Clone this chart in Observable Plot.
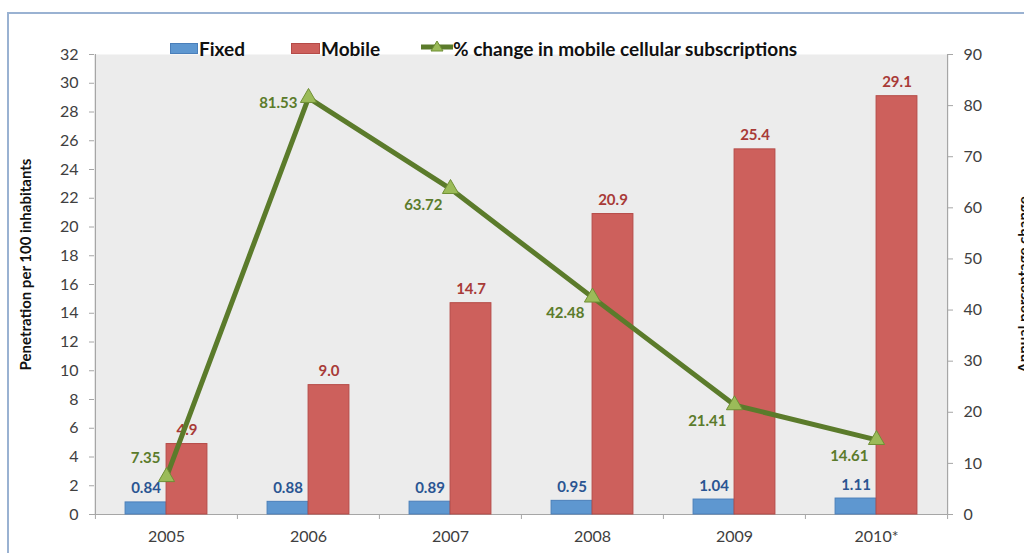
<!DOCTYPE html>
<html>
<head>
<meta charset="utf-8">
<script src="https://cdn.jsdelivr.net/npm/d3@7"></script>
<script src="https://cdn.jsdelivr.net/npm/@observablehq/plot@0.6"></script>
<style>
  html, body { margin: 0; padding: 0; background: #fff; }
  #wrap { position: relative; width: 1024px; height: 553px; overflow: hidden; font-family: Lato, "Open Sans", sans-serif; }
  #border { position: absolute; left: 7px; top: 12px; right: -4px; bottom: -4px; border-top: 2px solid #9ab2d2; border-left: 2px solid #9ab2d2; pointer-events: none; z-index: 2; }
  .lg { position: absolute; font-weight: bold; font-size: 19px; color: #111; line-height: 1; z-index: 3; white-space: nowrap; }
  .sw { position: absolute; z-index: 3; }
</style>
</head>
<body>
<div id="wrap">
  <div id="border"></div>
  <div class="sw" style="left:170px;top:43px;width:28px;height:11px;background:#5e97d0;border:1px solid #4a7fba;box-sizing:border-box"></div>
  <div class="lg" style="left:199px;top:39px">Fixed</div>
  <div class="sw" style="left:291px;top:43px;width:29px;height:11px;background:#cd605c;border:1px solid #b54a47;box-sizing:border-box"></div>
  <div class="lg" style="left:321px;top:39px">Mobile</div>
  <svg class="sw" style="left:420px;top:38px" width="34" height="16">
    <line x1="1" y1="9" x2="33" y2="9" stroke="#5b7b2b" stroke-width="5"/>
    <path d="M17,3 L23,13 L11,13 Z" fill="#9bbb59" stroke="#6f8f35" stroke-width="1"/>
  </svg>
  <div class="lg" style="left:453px;top:39px">% change in mobile cellular subscriptions</div>
  <div id="chart"></div>
</div>
<script>
// ---- data ----
const years = ["2005", "2006", "2007", "2008", "2009", "2010*"];
const fixed = [0.84, 0.88, 0.89, 0.95, 1.04, 1.11];
const mobile = [4.9, 9.0, 14.7, 20.9, 25.4, 29.1];
const change = [7.35, 81.53, 63.72, 42.48, 21.41, 14.61];
const leftTicks = [0, 2, 4, 6, 8, 10, 12, 14, 16, 18, 20, 22, 24, 26, 28, 30, 32];
const rightTicks = [0, 10, 20, 30, 40, 50, 60, 70, 80, 90];
const leftTitle = "Penetration per 100 inhabitants";
const rightTitle = "Annual percentage change";

// ---- layout ----
const W = 1024, H = 553;
const mL = 94, mR = 77, mT = 54, mB = 39;
const leftMax = 32, rightMax = 90;
const toLeft = v => v * leftMax / rightMax;
const step = (W - mL - mR) / years.length;
const barW = 41;

const data = years.map((year, i) => ({year, fixed: fixed[i], mobile: mobile[i], change: change[i], i}));
const maxChange = d3.max(change);

const axisGray = "#a6a6a6";
const tickText = "#404040";
const green = "#5b7b2b";
const font = "Lato, 'Open Sans', sans-serif";

const chart = Plot.plot({
  width: W, height: H,
  marginLeft: mL, marginRight: mR, marginTop: mT, marginBottom: mB,
  style: {fontFamily: font, background: "transparent"},
  x: {type: "band", domain: years, padding: 0, axis: null},
  y: {domain: [0, leftMax], axis: null},
  marks: [
    Plot.frame({fill: "#ececec", stroke: null}),
    // left axis
    Plot.axisY({anchor: "left", ticks: leftTicks, tickSize: 5, tickPadding: 11, fontSize: 16, stroke: axisGray, fill: tickText, label: null}),
    // right axis
    Plot.axisY({anchor: "right", ticks: rightTicks.map(toLeft), tickFormat: d => Math.round(d * rightMax / leftMax), tickSize: 5, tickPadding: 11, fontSize: 16, stroke: axisGray, fill: tickText, label: null}),
    // x labels
    Plot.axisX({tickSize: 0, tickPadding: 16, fontSize: 16, fill: tickText, label: null}),
    // x boundary ticks
    Plot.axisX({tickSize: 5, tickFormat: () => "", stroke: axisGray, dx: -step / 2, label: null}),
    Plot.axisX({ticks: [years[years.length - 1]], tickSize: 5, tickFormat: () => "", stroke: axisGray, dx: step / 2, label: null}),
    // axis lines
    Plot.ruleX([years[0]], {dx: -step / 2, stroke: axisGray, strokeWidth: 1.2}),
    Plot.ruleX([years[years.length - 1]], {dx: step / 2, stroke: axisGray, strokeWidth: 1.2}),
    Plot.ruleY([0], {stroke: axisGray, strokeWidth: 1.2}),
    // bars
    Plot.barY(data, {x: "year", y: "fixed", fill: "#5e97d0", stroke: "#4a7fba", strokeWidth: 1, insetLeft: step / 2 - barW, insetRight: step / 2}),
    Plot.barY(data, {x: "year", y: "mobile", fill: "#cd605c", stroke: "#b54a47", strokeWidth: 1, insetLeft: step / 2, insetRight: step / 2 - barW}),
    // bar labels
    Plot.text(data, {x: "year", y: "fixed", text: d => d.fixed.toFixed(2), dx: -barW / 2, dy: -9, lineAnchor: "bottom", fill: "#2a5592", fontWeight: "bold", fontSize: 15}),
    Plot.text(data, {x: "year", y: "mobile", text: d => d.mobile.toFixed(1), dx: barW / 2, dy: -9, lineAnchor: "bottom", fill: "#a83a37", fontWeight: "bold", fontSize: 15}),
    // line
    Plot.line(data, {x: "year", y: d => toLeft(d.change), stroke: green, strokeWidth: 5}),
    Plot.dot(data, {x: "year", y: d => toLeft(d.change), symbol: "triangle", r: 6, fill: "#9bbb59", stroke: "#6f8f35", strokeWidth: 1}),
    // line labels
    Plot.text(data, {filter: d => d.i === 0, x: "year", y: d => toLeft(d.change), text: d => d.change.toFixed(2), textAnchor: "end", dx: -6, dy: -19, fill: green, fontWeight: "bold", fontSize: 15}),
    Plot.text(data, {filter: d => d.i !== 0 && d.change === maxChange, x: "year", y: d => toLeft(d.change), text: d => d.change.toFixed(2), textAnchor: "end", dx: -11, dy: 5, fill: green, fontWeight: "bold", fontSize: 15}),
    Plot.text(data, {filter: d => d.i !== 0 && d.change !== maxChange, x: "year", y: d => toLeft(d.change), text: d => d.change.toFixed(2), textAnchor: "end", dx: -8, dy: 16, fill: green, fontWeight: "bold", fontSize: 15}),
    // axis titles
    Plot.text([leftTitle], {text: d => d, frameAnchor: "left", textAnchor: "middle", rotate: -90, dx: -68, dy: -20, fill: "#111", fontWeight: "bold", fontSize: 15}),
    Plot.text([rightTitle], {text: d => d, frameAnchor: "right", textAnchor: "middle", rotate: -90, dx: 77, dy: 0, fill: "#111", fontWeight: "bold", fontSize: 15})
  ]
});
chart.style.position = "absolute";
chart.style.left = "0";
chart.style.top = "0";
document.getElementById("chart").appendChild(chart);
</script>
</body>
</html>
